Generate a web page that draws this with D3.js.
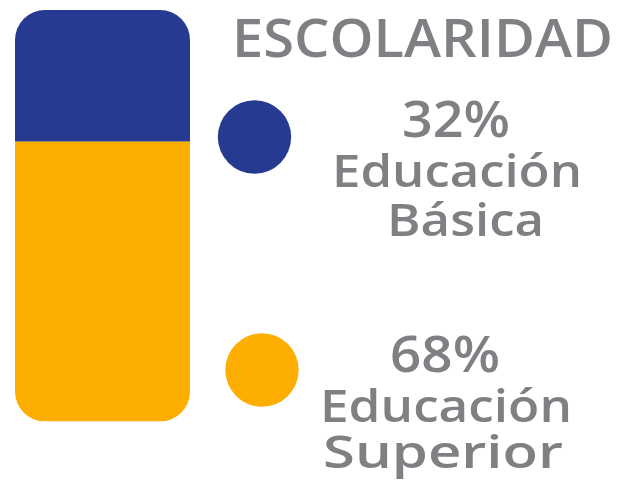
<!DOCTYPE html>
<html>
<head>
<meta charset="utf-8">
<script src="https://cdn.jsdelivr.net/npm/d3@7"></script>
<style>
  html, body { margin: 0; padding: 0; background: #fff; }
  svg { display: block; }
  text { font-family: "Open Sans", sans-serif; font-weight: 600; fill: #808084; }
</style>
</head>
<body>
<div id="chart"></div>
<script>
// data
const title = "ESCOLARIDAD";
const categories = ["Educación Básica", "Educación Superior"];
const values = [32, 68];
const colors = ["#263a91", "#fdae00"];

const W = 634, H = 485;
const svg = d3.select("#chart").append("svg")
  .attr("width", W).attr("height", H);

// stacked single bar, top to bottom
const y = d3.scaleLinear().domain([0, d3.sum(values)]).range([10, 421.5]);
const barX = 15, barW = 175, rad = 30;

let acc = 0;
const stack = values.map((v, i) => {
  const s = { i, y0: acc, y1: acc + v };
  acc += v;
  return s;
});

svg.append("clipPath").attr("id", "barclip")
  .append("rect")
  .attr("x", barX).attr("y", y(0))
  .attr("width", barW).attr("height", y(d3.sum(values)) - y(0))
  .attr("rx", rad).attr("ry", rad);

svg.append("g").attr("clip-path", "url(#barclip)")
  .selectAll("rect").data(stack).join("rect")
  .attr("x", barX).attr("width", barW)
  .attr("y", d => y(d.y0))
  .attr("height", d => y(d.y1) - y(d.y0))
  .attr("fill", d => colors[d.i]);

// title
svg.append("text")
  .attr("x", 232).attr("y", 56.5)
  .attr("font-size", 53)
  .attr("textLength", 381).attr("lengthAdjust", "spacingAndGlyphs")
  .text(title);

// legend blocks: circle + percentage + two-line label
const legend = [
  { cx: 254.5, cy: 137, lines: [
      { t: values[0] + "%", x: 402, y: 136.5, w: 108, fs: 50 },
      { t: categories[0].split(" ")[0], x: 332, y: 187, w: 250, fs: 46 },
      { t: categories[0].split(" ")[1], x: 387, y: 236, w: 157, fs: 46 } ] },
  { cx: 262, cy: 370, lines: [
      { t: values[1] + "%", x: 390, y: 371.5, w: 110, fs: 50 },
      { t: categories[1].split(" ")[0], x: 320, y: 421.5, w: 252, fs: 46 },
      { t: categories[1].split(" ")[1], x: 323, y: 468, w: 240, fs: 46 } ] }
];

const lg = svg.selectAll("g.leg").data(legend).join("g").attr("class", "leg");
lg.append("circle")
  .attr("cx", d => d.cx).attr("cy", d => d.cy).attr("r", 36.7)
  .attr("fill", (d, i) => colors[i]);
lg.selectAll("text").data(d => d.lines).join("text")
  .attr("x", d => d.x).attr("y", d => d.y)
  .attr("font-size", d => d.fs)
  .attr("textLength", d => d.w).attr("lengthAdjust", "spacingAndGlyphs")
  .text(d => d.t);
</script>
</body>
</html>
